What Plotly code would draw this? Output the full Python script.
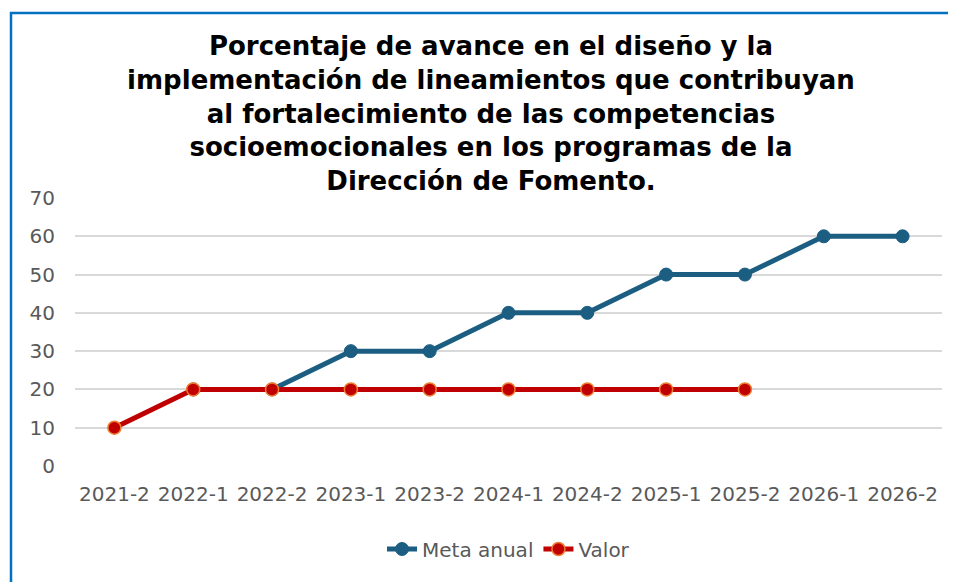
import plotly.graph_objects as go

categories = ["2021-2", "2022-1", "2022-2", "2023-1", "2023-2", "2024-1",
              "2024-2", "2025-1", "2025-2", "2026-1", "2026-2"]
meta_anual = [None, 20, 20, 30, 30, 40, 40, 50, 50, 60, 60]
valor = [10, 20, 20, 20, 20, 20, 20, 20, 20, None, None]
y_ticks = [0, 10, 20, 30, 40, 50, 60, 70]

title_text = ("<b>Porcentaje de avance en el diseño y la<br>"
              "implementación de lineamientos que contribuyan<br>"
              "al fortalecimiento de las competencias<br>"
              "socioemocionales en los programas de la<br>"
              "Dirección de Fomento.</b>")

blue = "#1B5E82"
red = "#C00000"
orange = "#ED7D31"

fig = go.Figure()
fig.add_trace(go.Scatter(
    x=categories, y=meta_anual, name="Meta anual", mode="lines+markers",
    line=dict(color=blue, width=5),
    marker=dict(size=13, color=blue, line=dict(color=blue, width=1)),
))
fig.add_trace(go.Scatter(
    x=categories, y=valor, name="Valor", mode="lines+markers",
    line=dict(color=red, width=5),
    marker=dict(size=13, color=red, line=dict(color=orange, width=1.5)),
))

W, H = 948, 574
L, T = 67, 190
R = W - 934
B = H - 458
pw = W - L - R
ph = H - T - B

fig.update_layout(
    width=W, height=H,
    margin=dict(l=L, r=R, t=T, b=B),
    paper_bgcolor="white", plot_bgcolor="white",
    title=dict(text=title_text, x=483 / W, xanchor="center",
               y=1 - 47 / H, yanchor="top",
               font=dict(family="DejaVu Sans", size=26, color="black")),
    font=dict(family="DejaVu Sans", color="#595959", size=20),
    xaxis=dict(type="category", range=[-0.5, 10.5], showgrid=False,
               showline=False, ticks="", ticklabelstandoff=14,
               tickfont=dict(size=20, color="#595959")),
    yaxis=dict(range=[0, 70], tickvals=y_ticks, showgrid=True, gridcolor="#D9D9D9",
               gridwidth=1.5, zeroline=False, showline=False, ticks="",
               ticklabelstandoff=19,
               tickfont=dict(size=20, color="#595959")),
    showlegend=True,
    legend=dict(orientation="h", x=0.5, xanchor="center", y=(458 - 541) / ph,
                yanchor="middle", font=dict(size=20, color="#595959")),
    shapes=[dict(type="rect", xref="paper", yref="paper",
                 x0=(3 - L) / pw, x1=(W + 20 - L) / pw,
                 y0=(458 - (H + 20)) / ph, y1=(458 - 5) / ph,
                 line=dict(color="#0070C0", width=2.5), fillcolor="rgba(0,0,0,0)",
                 layer="below")],
)

fig.write_html("out.html")
